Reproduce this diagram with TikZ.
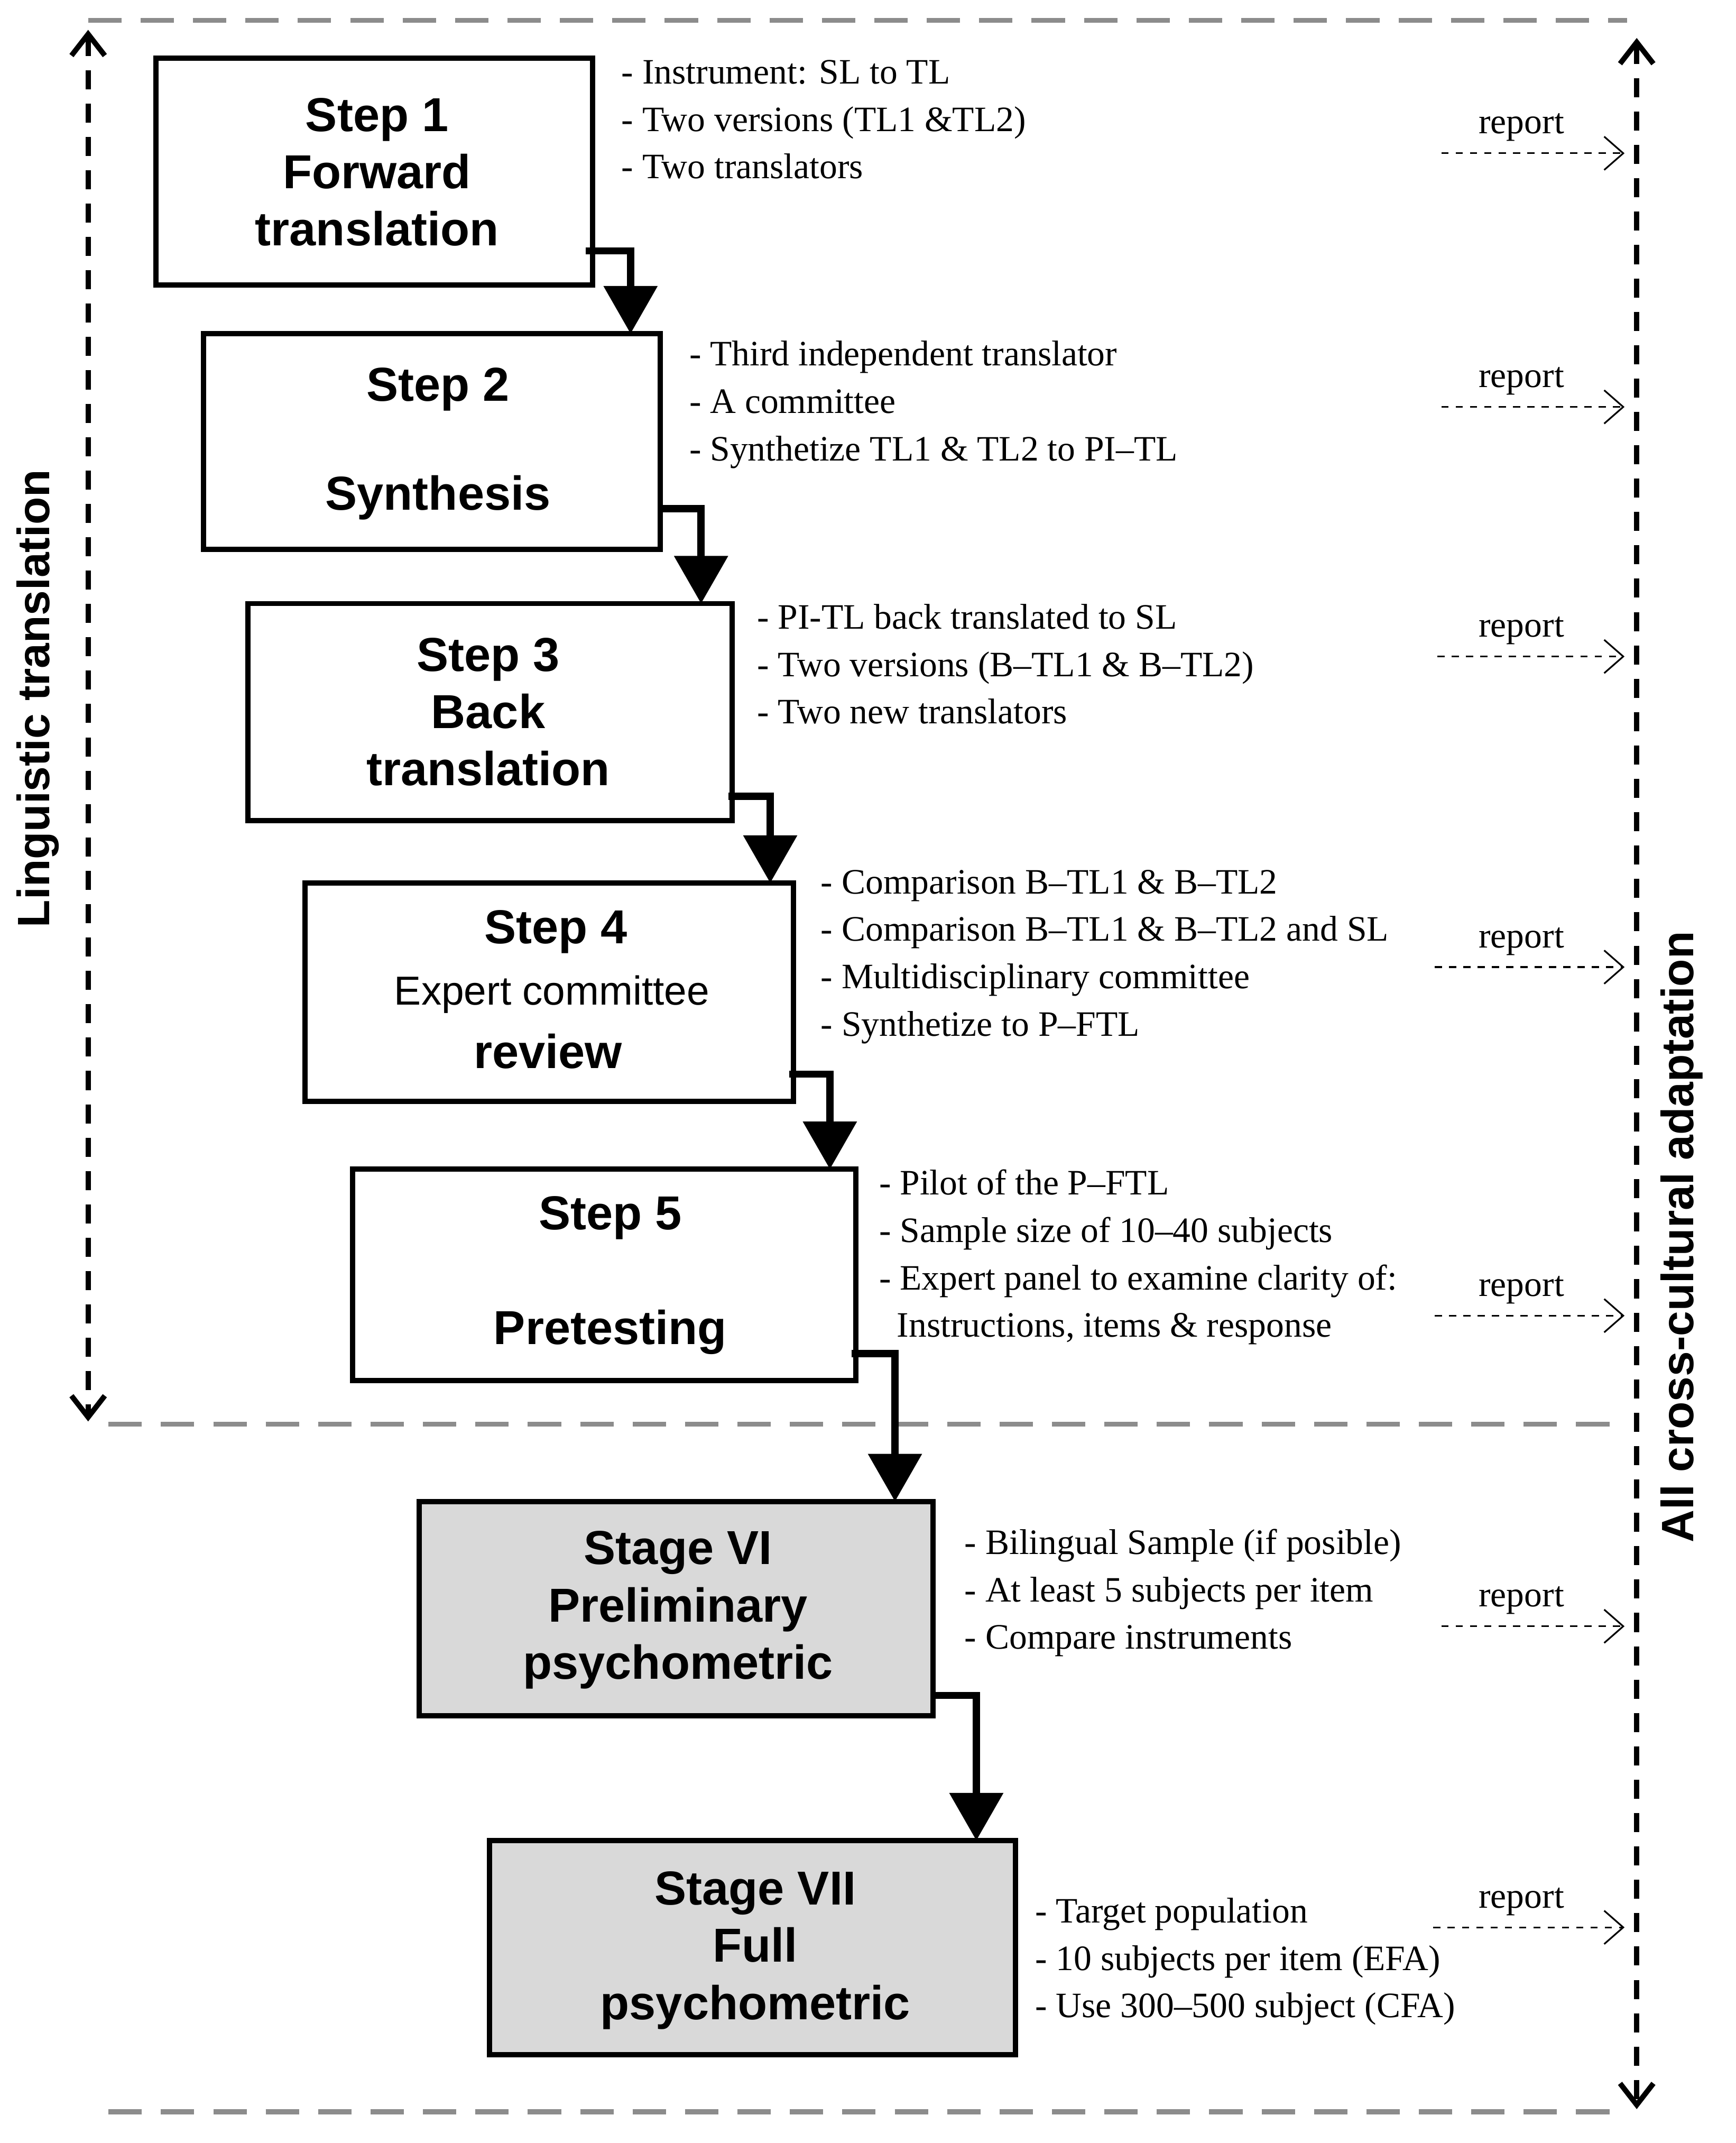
\documentclass[tikz,border=0pt]{standalone}
\usepackage{fontspec}
\setmainfont{Liberation Serif}
\newfontfamily\hsans{Liberation Sans}
\usetikzlibrary{arrows.meta,calc}
\definecolor{boxgray}{gray}{0.85}
\definecolor{lgray}{gray}{0.55}

\begin{document}
\begin{tikzpicture}[x=0.02cm,y=-0.02cm,
  stepbox/.style={draw,line width=2.2pt,inner sep=0pt},
  steptxt/.style={font=\hsans\bfseries\fontsize{20}{24}\selectfont,align=center},
  bullets/.style={anchor=north west,align=left,inner sep=0pt,font=\fontsize{15}{19.9}\selectfont},
  flow/.style={line width=3pt,-{Triangle[length=20pt,width=22pt]}},
  report/.style={dashed,line width=0.7pt,-{Straight Barb[length=8pt,width=14pt]}},
  sep/.style={dashed,lgray,line width=2.2pt,dash pattern=on 14pt off 8pt},
  span/.style={dashed,line width=2.2pt,dash pattern=on 8pt off 6pt,{Straight Barb[length=9pt,width=14pt]}-{Straight Barb[length=9pt,width=14pt]}}]
  \useasboundingbox (0,0) rectangle (1280,1580);

  % Separators
  \draw[sep] (65,15) -- (1200,15);
  \draw[sep] (80,1050) -- (1200,1050);
  \draw[sep] (80,1557) -- (1200,1557);

  % Spans
  \coordinate (lt) at (65,22);
  \coordinate (lb) at (65,1048);
  \coordinate (rt) at (1207,28);
  \coordinate (rb) at (1207,1555);
  \draw[span] (lt) -- (lb);
  \draw[span] (rt) -- (rb);
  \node[rotate=90,font=\hsans\bfseries\fontsize{19}{22}\selectfont] (ling) at (28,515) {Linguistic translation};
  \node[rotate=90,font=\hsans\bfseries\fontsize{19}{22}\selectfont] (all) at (1240,912) {All cross-cultural adaptation};

  % Boxes
  \draw[stepbox] (115,43) rectangle (437,210);
  \node[steptxt] (s1) at (278,127) {Step 1\\Forward\\translation};
  \draw[stepbox] (150,246) rectangle (487,405);
  \node[steptxt] (s2a) at (323,287) {Step 2};
  \node[steptxt] (s2b) at (323,367) {Synthesis};
  \draw[stepbox] (183,445) rectangle (540,605);
  \node[steptxt] (s3) at (360,525) {Step 3\\Back\\translation};
  \draw[stepbox] (225,651) rectangle (585,812);
  \node[steptxt] (s4a) at (410,687) {Step 4};
  \node[font=\hsans\fontsize{17}{20}\selectfont] (s4b) at (407,733) {Expert committee};
  \node[steptxt] (s4c) at (404,775) {review};
  \draw[stepbox] (260,862) rectangle (631,1018);
  \node[steptxt] (s5a) at (450,898) {Step 5};
  \node[steptxt] (s5b) at (450,982) {Pretesting};
  \draw[stepbox,fill=boxgray] (309,1107) rectangle (688,1265);
  \node[steptxt] (s6) at (500,1187) {Stage VI\\Preliminary\\psychometric};
  \draw[stepbox,fill=boxgray] (361,1357) rectangle (749,1515);
  \node[steptxt] (s7) at (557,1438) {Stage VII\\Full\\psychometric};

  % Flow arrows
  \draw[flow] (432,185) -- (465,185) -- (465,246);
  \draw[flow] (487,375) -- (517,375) -- (517,445);
  \draw[flow] (537,587) -- (568,587) -- (568,651);
  \draw[flow] (582,792) -- (612,792) -- (612,862);
  \draw[flow] (628,998) -- (660,998) -- (660,1107);
  \draw[flow] (688,1250) -- (720,1250) -- (720,1357);

  % Notes
  \node[bullets] (n1) at (458,44) {- Instrument: SL to TL\\- Two versions (TL1 \&TL2)\\- Two translators};
  \node[bullets] (n2) at (508,251) {- Third independent translator\\- A committee\\- Synthetize TL1 \& TL2 to PI--TL};
  \node[bullets] (n3) at (558,445) {- PI-TL back translated to SL\\- Two versions (B--TL1 \& B--TL2)\\- Two new translators};
  \node[bullets] (n4) at (605,641) {- Comparison B--TL1 \& B--TL2\\- Comparison B--TL1 \& B--TL2 and SL\\- Multidisciplinary committee\\- Synthetize to P--FTL};
  \node[bullets] (n5) at (648,862) {- Pilot of the P--FTL\\- Sample size of 10--40 subjects\\- Expert panel to examine clarity of:\\\hphantom{-\,}Instructions, items \& response};
  \node[bullets] (n6) at (711,1127) {- Bilingual Sample (if posible)\\- At least 5 subjects per item\\- Compare instruments};
  \node[bullets] (n7) at (763,1399) {- Target population\\- 10 subjects per item (EFA)\\- Use 300--500 subject (CFA)};

  % Reports
  \foreach \y/\x/\n in {113/1063/1,300/1063/2,484/1060/3,713/1058/4,970/1058/5,1199/1063/6,1421/1057/7}{
    \coordinate (ra\n) at (\x,\y);
    \coordinate (rb\n) at (1198,\y);
    \draw[report] (ra\n) -- (rb\n);
    \node[font=\fontsize{15}{18}\selectfont] (rl\n) at (1122,\y-19) {report};
  }
\end{tikzpicture}
\end{document}
